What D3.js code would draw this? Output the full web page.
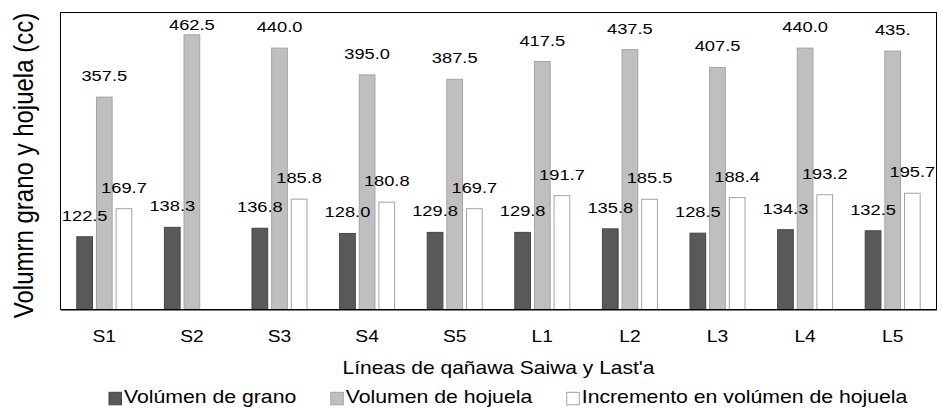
<!DOCTYPE html>
<html>
<head>
<meta charset="utf-8">
<script src="https://cdn.jsdelivr.net/npm/d3@7"></script>
<style>
  body { margin: 0; background: #fff; }
  text { font-family: "Liberation Sans", Arial, sans-serif; fill: #000; }
</style>
</head>
<body>
<div class="chart"></div>
<script>
// Data
const categories = ["S1", "S2", "S3", "S4", "S5", "L1", "L2", "L3", "L4", "L5"];
const grano = [122.5, 138.3, 136.8, 128.0, 129.8, 129.8, 135.8, 128.5, 134.3, 132.5];
const hojuela = [357.5, 462.5, 440.0, 395.0, 387.5, 417.5, 437.5, 407.5, 440.0, 435.0];
const incremento = [169.7, null, 185.8, 180.8, 169.7, 191.7, 185.5, 188.4, 193.2, 195.7];
const hojuelaLabels = ["357.5", "462.5", "440.0", "395.0", "387.5", "417.5", "437.5", "407.5", "440.0", "435."];
const seriesNames = ["Volúmen de grano", "Volumen de hojuela", "Incremento en volúmen de hojuela"];

const fills = ["#595959", "#bfbfbf", "#ffffff"];
const strokes = ["#454545", "#a3a3a3", "#a3a3a3"];
const stretch = 1.18; // text in the picture is a bit wider than tall

const width = 942, height = 408;
const margin = { top: 12.5, right: 5.5, bottom: 98.5, left: 60.5 };

const svg = d3.select(".chart")
    .append("svg")
    .attr("width", width)
    .attr("height", height);

const x0 = d3.scaleBand()
    .domain(categories)
    .range([margin.left, width - margin.right])
    .padding(0);
const x1 = d3.scaleBand()
    .domain([0, 1, 2])
    .range([0, x0.bandwidth()])
    .paddingInner(0.2)
    .paddingOuter(0.83);
const y = d3.scaleLinear()
    .domain([0, 500])
    .range([height - margin.bottom, margin.top]);

// one row per bar
const series = [grano, hojuela, incremento];
const bars = [];
series.forEach((vals, s) => {
    vals.forEach((v, i) => {
        if (v !== null) bars.push({ cat: categories[i], s: s, v: v, label: s === 1 ? hojuelaLabels[i] : v.toFixed(1) });
    });
});

// helper for stretched text
function stext(parent, tx, ty, str, size, extra) {
    return parent.append("text")
        .attr("transform", `translate(${tx},${ty}) scale(${stretch},1)` + (extra || ""))
        .style("font-size", size + "px")
        .text(str);
}

// bars
svg.append("g")
    .selectAll("rect")
    .data(bars)
    .join("rect")
    .attr("x", d => x0(d.cat) + x1(d.s))
    .attr("y", d => y(d.v))
    .attr("width", x1.bandwidth())
    .attr("height", d => y(0) - y(d.v))
    .attr("fill", d => fills[d.s])
    .attr("stroke", d => strokes[d.s])
    .attr("stroke-width", 1);

// plot frame
svg.append("rect")
    .attr("x", margin.left)
    .attr("y", margin.top)
    .attr("width", width - margin.right - margin.left)
    .attr("height", y(0) - margin.top)
    .attr("fill", "none")
    .attr("stroke", "#000")
    .attr("stroke-width", 1);

// x axis (labels only, no ticks)
const xAxis = svg.append("g")
    .attr("transform", `translate(0,${y(0)})`)
    .call(d3.axisBottom(x0).tickSize(0).tickPadding(0));
xAxis.select(".domain").attr("stroke", "#000");
xAxis.selectAll(".tick text").remove();
xAxis.selectAll(".tick").each(function (d) {
    stext(d3.select(this), 0, 32.5, d, 16.3).attr("text-anchor", "middle");
});

// value labels
const labels = svg.append("g");
bars.forEach(d => {
    const cx = x0(d.cat) + x1(d.s) + x1.bandwidth() / 2;
    const ty = Math.max(y(d.v) - 16, 29.5);
    stext(labels, cx, ty, d.label, 15.5).attr("text-anchor", "middle");
});

// axis titles
stext(svg, (margin.left + width - margin.right) / 2, 374, "Líneas de qañawa Saiwa y Last'a", 17.8)
    .attr("text-anchor", "middle");
stext(svg, 33.3, 165.5, "Volumrn grano y hojuela (cc)", 24, " rotate(-90)")
    .attr("text-anchor", "middle");

// legend
const legend = svg.append("g");
let lx = 109;
seriesNames.forEach((name, s) => {
    legend.append("rect")
        .attr("x", lx)
        .attr("y", 392.3)
        .attr("width", 12.5)
        .attr("height", 12.5)
        .attr("fill", fills[s])
        .attr("stroke", strokes[s]);
    const t = stext(legend, lx + 15, 402.7, name, 18);
    lx += 15 + t.node().getComputedTextLength() * stretch + 34.5;
});
</script>
</body>
</html>
